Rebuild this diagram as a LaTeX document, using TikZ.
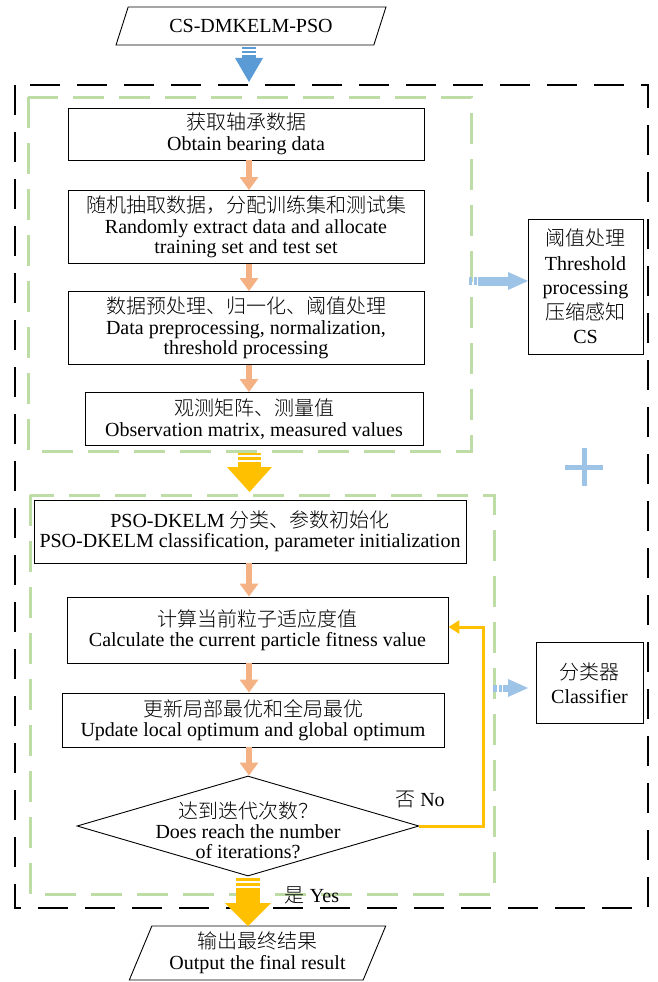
\documentclass[tikz,border=0pt]{standalone}
\usepackage{fontspec}
\setmainfont{Liberation Serif}
\newfontfamily\cjk{Noto Sans CJK SC Light}
\usetikzlibrary{arrows.meta,shapes.geometric,calc}
\definecolor{oarr}{HTML}{F4B183}
\definecolor{barr}{HTML}{5B9BD5}
\definecolor{yarr}{HTML}{FFC000}
\definecolor{lblue}{HTML}{9DC3E6}
\definecolor{gdash}{RGB}{190,220,165}
\begin{document}
\begin{tikzpicture}[x=1pt,y=-1pt,
  txt/.style={font=\fontsize{20}{20.5}\selectfont, align=center, inner sep=0pt},
  box/.style={txt, draw, line width=0.9pt},
  para/.style={txt, draw, line width=0.9pt, trapezium, trapezium stretches=true},
  oarrow/.style={oarr, line width=6pt, -{Triangle[width=18pt,length=13pt]}},
  yloop/.style={yarr, line width=3pt, -{Triangle[width=13pt,length=11pt]}},
  outerframe/.style={line width=2pt, dash pattern=on 30pt off 17pt},
  greenframe/.style={gdash, line width=3pt, dash pattern=on 31pt off 15pt}]
\useasboundingbox (0,0) rectangle (657,982);

% frames
\draw[outerframe] (15,85) rectangle (648,908);
\draw[greenframe] (28,97) rectangle (471,451);
\draw[greenframe] (30,495) rectangle (494,894);

% start / end
\node[para, trapezium left angle=59, trapezium right angle=121,
      minimum width=270, minimum height=38] (start) at (251,26) {CS-DMKELM-PSO};
\node[para, trapezium left angle=65.6, trapezium right angle=114.4,
      minimum width=257, minimum height=54] (finish) at (257.5,953)
      {{\cjk 输出最终结果}\\Output the final result};

% upper boxes
\node[box, minimum width=356, minimum height=52] (b1) at (246,134)
  {{\cjk 获取轴承数据}\\Obtain bearing data};
\node[box, minimum width=356, minimum height=73] (b2) at (246,227)
  {{\cjk 随机抽取数据，分配训练集和测试集}\\Randomly extract data and allocate\\training set and test set};
\node[box, minimum width=356, minimum height=73] (b3) at (246,328)
  {{\cjk 数据预处理、归一化、阈值处理}\\Data preprocessing, normalization,\\threshold processing};
\node[box, minimum width=338, minimum height=53] (b4) at (254,419)
  {{\cjk 观测矩阵、测量值}\\Observation matrix, measured values};

% lower boxes
\node[box, minimum width=432, minimum height=63] (b5) at (250,531.5)
  {PSO-DKELM {\cjk 分类、参数初始化}\\PSO-DKELM classification, parameter initialization};
\node[box, minimum width=381, minimum height=66] (b6) at (257.5,630)
  {{\cjk 计算当前粒子适应度值}\\Calculate the current particle fitness value};
\node[box, minimum width=382, minimum height=54] (b7) at (253,720)
  {{\cjk 更新局部最优和全局最优}\\Update local optimum and global optimum};
\node[diamond, draw, line width=0.9pt, minimum width=342, minimum height=100,
      inner sep=0pt] (dec) at (248,826) {};
\node[txt, font=\fontsize{20}{20}\selectfont] (dectext) at (248,830)
  {{\cjk 达到迭代次数？}\\Does reach the number\\of iterations?};

% side boxes
\node[box, minimum width=115, minimum height=135,
      font=\fontsize{20}{24.5}\selectfont] (thr) at (585.5,286.5)
  {{\cjk 阈值处理}\\Threshold\\processing\\{\cjk 压缩感知}\\CS};
\node[box, minimum width=107, minimum height=81,
      font=\fontsize{20}{24}\selectfont] (cls) at (589.5,683)
  {{\cjk 分类器}\\Classifier};

% labels
\node[txt] (nolab) at (420,800) {{\cjk 否} No};
\node[txt] (yeslab) at (312,895) {{\cjk 是} Yes};

% orange arrows
\draw[oarrow] (b1.south -| 249,0) -- (b2.north -| 249,0);
\draw[oarrow] (b2.south -| 249,0) -- (b3.north -| 249,0);
\draw[oarrow] (b3.south -| 249,0) -- (b4.north -| 249,0);
\draw[oarrow] (b5.south -| 249,0) -- (b6.north -| 249,0);
\draw[oarrow] (b6.south -| 249,0) -- (b7.north -| 249,0);
\draw[oarrow] (b7.south -| 249,0) -- (dec.north -| 249,0);

% loop back (No)
\coordinate (lp) at (483,627);
\draw[yloop] (dec.east) -| (lp) -- (lp -| b6.east);

% plus sign
\draw[lblue, line width=5pt] (565,467) -- (603,467) (584,448) -- (584,486);

% top blue block arrow
\fill[barr] (242,47) rectangle (256,49.5);
\fill[barr] (242,51.5) rectangle (256,53.5);
\fill[barr] (242,55) rectangle (256,59);
\fill[barr] (235,58) -- (263,58) -- (249,82) -- cycle;

% middle yellow block arrow
\fill[yarr] (238,453) rectangle (261,455);
\fill[yarr] (238,457) rectangle (261,460);
\fill[yarr] (238,462) rectangle (261,468);
\fill[yarr] (227,467) -- (272,467) -- (249.5,492) -- cycle;

% yes yellow block arrow
\fill[yarr] (236,878) rectangle (260,881);
\fill[yarr] (236,883) rectangle (260,886);
\fill[yarr] (236,888) rectangle (260,904);
\fill[yarr] (225,903) -- (271,903) -- (248,926) -- cycle;

% side light-blue arrows
\fill[lblue] (469,277) rectangle (471.5,285);
\fill[lblue] (473.5,277) rectangle (476.5,285);
\fill[lblue] (478,276.5) rectangle (509,285.5);
\fill[lblue] (508,272) -- (508,290) -- (528,281) -- cycle;

\fill[lblue] (493,684.5) rectangle (497,691.5);
\fill[lblue] (498.5,684.5) rectangle (502,691.5);
\fill[lblue] (503,684.5) rectangle (509,691.5);
\fill[lblue] (508,679) -- (508,697) -- (528,688) -- cycle;
\end{tikzpicture}
\end{document}
